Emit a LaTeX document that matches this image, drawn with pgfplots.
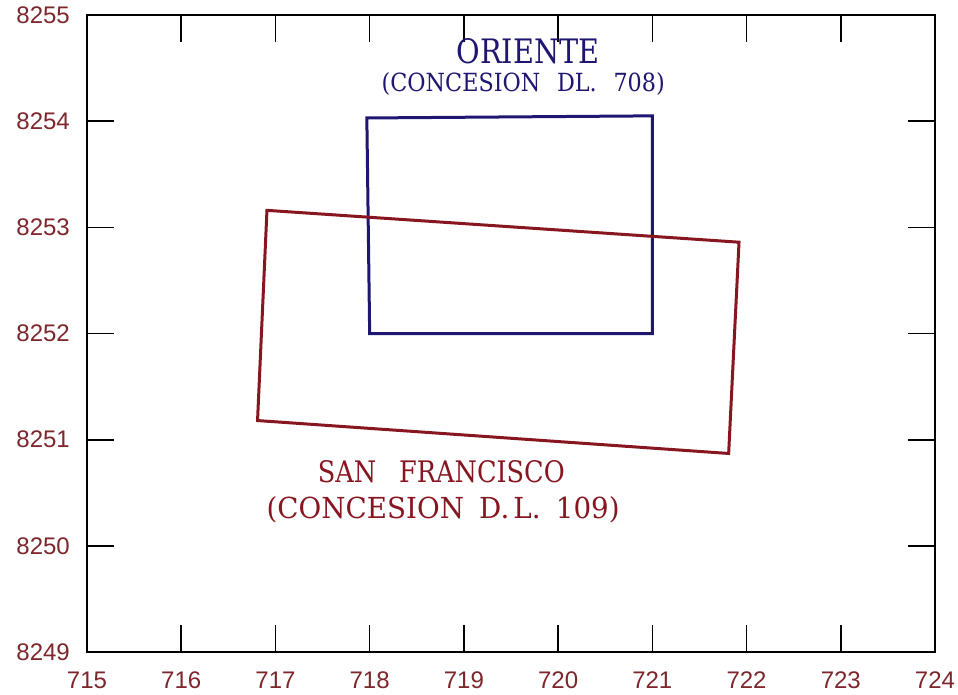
\documentclass[border=0pt]{standalone}
\usepackage{pgfplots}
\pgfplotsset{compat=1.18}
\usepackage{graphicx}
\usepackage{fontspec}
\setmainfont{DejaVu Serif}
\newfontfamily\ticksans{Liberation Sans}
\definecolor{tickred}{RGB}{125,38,44}
\definecolor{boxred}{RGB}{135,22,32}
\definecolor{boxblue}{RGB}{30,22,112}
\begin{document}
\begin{tikzpicture}
\path[use as bounding box] (0,0) rectangle (958pt,694pt);
\begin{axis}[
  at={(87pt,42pt)}, anchor=south west,
  scale only axis, width=848pt, height=637pt,
  xmin=715, xmax=724, ymin=8249, ymax=8255,
  xtick={715,...,724}, ytick={8249,...,8255},
  scaled ticks=false,
  tick align=inside,
  major tick length=27pt,
  tick style={black, line width=1.6pt},
  axis line style={black, line width=2pt},
  /pgf/number format/assume math mode=true,
  /pgf/number format/1000 sep={},
  ticklabel style={font=\ticksans\fontsize{24}{28}\selectfont, text=tickred},
  xticklabel style={inner sep=0pt, yshift=-20pt},
  yticklabel style={inner sep=0pt, xshift=-17pt},
  clip=false,
]
\addplot[boxblue, line width=3pt, line join=miter] coordinates {
  (717.97,8254.03) (721.00,8254.05) (721.00,8252.00) (718.00,8252.00)
} -- cycle;
\addplot[boxred, line width=3pt, line join=miter] coordinates {
  (716.91,8253.16) (721.92,8252.86) (721.81,8250.87) (716.81,8251.18)
} -- cycle;
\node[anchor=base, text=boxblue, inner sep=0pt, font=\fontsize{30}{33}\selectfont] at (axis cs:719.68,8254.546) {\resizebox{143pt}{25pt}{ORIENTE}};
\node[anchor=base, text=boxblue, inner sep=0pt, font=\fontsize{30}{33}\selectfont] at (axis cs:719.63,8254.28) {\resizebox{283pt}{19pt}{(CONCESION\hspace{0.75em}DL.\hspace{0.75em}708)}};
\node[anchor=base, text=boxred, inner sep=0pt, font=\fontsize{30}{33}\selectfont] at (axis cs:718.76,8250.60) {\resizebox{247pt}{22pt}{SAN\hspace{0.9em}FRANCISCO}};
\node[anchor=base, text=boxred, inner sep=0pt, font=\fontsize{30}{33}\selectfont] at (axis cs:718.78,8250.26) {\resizebox{353pt}{22pt}{(CONCESION\hspace{0.55em}D.\hspace{0.15em}L.\hspace{0.55em}109)}};
\end{axis}
\end{tikzpicture}
\end{document}
